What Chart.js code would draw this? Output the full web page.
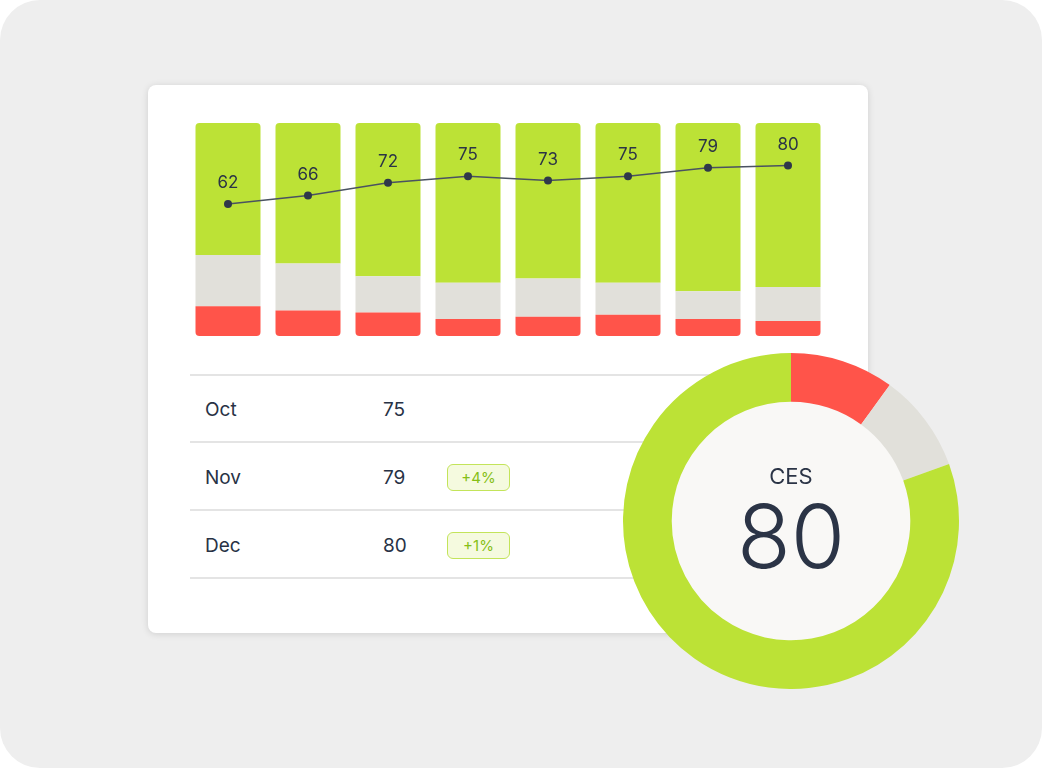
<!DOCTYPE html>
<html>
<head>
<meta charset="utf-8">
<script src="https://cdn.jsdelivr.net/npm/chart.js@4.4.1/dist/chart.umd.min.js"></script>
<style>
  html,body{margin:0;padding:0;background:#ffffff;width:1042px;height:768px;overflow:hidden;font-family:Inter,"Liberation Sans",Arial,sans-serif;}
  #bg{position:absolute;left:0;top:0;width:1042px;height:768px;background:#eeeeee;border-radius:40px;}
  #card{position:absolute;left:148px;top:85px;width:720px;height:548px;background:#ffffff;border-radius:8px;box-shadow:0 1px 7px rgba(0,0,0,0.13);}
  #barWrap{position:absolute;left:188px;top:100px;width:640px;height:236px;}
  .rule{position:absolute;left:190px;width:638px;height:2px;background:#e4e4e4;}
  .cell{position:absolute;font-size:19px;color:#283245;line-height:24px;}
  .badge{position:absolute;left:447px;width:61px;height:25px;border:1.6px solid #c3e45a;background:#f5fadf;border-radius:6px;color:#86bf17;font-size:15px;line-height:25px;text-align:center;}
  #donutWrap{position:absolute;left:623px;top:353px;width:336px;height:336px;}
  #ces{position:absolute;left:691px;width:200px;top:462px;text-align:center;font-size:22px;color:#2b3446;line-height:28px;}
  #big{position:absolute;left:691px;width:200px;top:488px;text-align:center;font-size:88px;font-weight:300;color:#2b3446;line-height:96px;}
</style>
</head>
<body>
<div id="bg"></div>
<div id="card"></div>
<div id="barWrap"><canvas id="bars"></canvas></div>
<div id="table"></div>
<div id="donutWrap"><canvas id="donut"></canvas></div>
<div id="ces"></div>
<div id="big"></div>
<script>
// ---- data ----
const categories = ["1","2","3","4","5","6","7","8"];
const positiveShare = [62, 66, 72, 75, 73, 75, 79, 77];
const neutralShare  = [24, 22, 17, 17, 18, 15, 13, 16];
const negativeShare = [14, 12, 11, 8, 9, 10, 8, 7];
const cesScore      = [62, 66, 72, 75, 73, 75, 79, 80];

const tableMonths = ["Oct", "Nov", "Dec"];
const tableValues = [75, 79, 80];
const tableChange = ["", "+4%", "+1%"];

const donutLabels = ["Negative", "Neutral", "Positive"];
const donutValues = [10, 9.5, 80.5];
const centerTitle = "CES";
const centerValue = "80";

const GREEN = "#bce236", GRAY = "#e1e0da", RED = "#ff544a";

// ---- table (HTML) ----
const tbl = document.getElementById('table');
const ruleYs = [374, 441, 509, 577];
ruleYs.forEach(y => { const d = document.createElement('div'); d.className='rule'; d.style.top = y+'px'; tbl.appendChild(d); });
tableMonths.forEach((m, i) => {
  const cy = 410 + i*68;
  const a = document.createElement('div'); a.className='cell'; a.style.left='205px'; a.style.top=(cy-12)+'px'; a.textContent=m; tbl.appendChild(a);
  const b = document.createElement('div'); b.className='cell'; b.style.left='383px'; b.style.top=(cy-12)+'px'; b.textContent=tableValues[i]; tbl.appendChild(b);
  if (tableChange[i]) { const c = document.createElement('div'); c.className='badge'; c.style.top=(cy-14)+'px'; c.textContent=tableChange[i]; tbl.appendChild(c); }
});
document.getElementById('ces').textContent = centerTitle;
document.getElementById('big').textContent = centerValue;

// ---- bar + line chart ----
const labelPlugin = {
  id: 'pointLabels',
  afterDatasetsDraw(chart) {
    const ctx = chart.ctx;
    const meta = chart.getDatasetMeta(3);
    ctx.save();
    ctx.font = '17px Inter, "Liberation Sans", Arial, sans-serif';
    ctx.fillStyle = '#2b3446';
    ctx.textAlign = 'center';
    ctx.textBaseline = 'middle';
    meta.data.forEach((pt, i) => { ctx.fillText(String(cesScore[i]), pt.x, pt.y - 21); });
    ctx.restore();
  }
};
new Chart(document.getElementById('bars'), {
  data: {
    labels: categories,
    datasets: [
      { type:'bar', data: negativeShare, backgroundColor: RED, stack:'s', order:1,
        borderRadius:{topLeft:0,topRight:0,bottomLeft:4,bottomRight:4}, borderSkipped:false },
      { type:'bar', data: neutralShare, backgroundColor: GRAY, stack:'s', order:1, borderRadius:0, borderSkipped:false },
      { type:'bar', data: positiveShare, backgroundColor: GREEN, stack:'s', order:1,
        borderRadius:{topLeft:4,topRight:4,bottomLeft:0,bottomRight:0}, borderSkipped:false },
      { type:'line', data: cesScore, yAxisID:'yLine', borderColor:'#4a5261', borderWidth:1.5,
        pointRadius:4, pointBackgroundColor:'#2f384a', pointBorderWidth:0, tension:0, order:0, clip:false }
    ]
  },
  options: {
    responsive:true, maintainAspectRatio:false, animation:false,
    layout:{ autoPadding:false, padding:{ top:23, bottom:0, left:0, right:0 } },
    datasets:{ bar:{ barPercentage:0.8125, categoryPercentage:1 } },
    plugins:{ legend:{display:false}, tooltip:{enabled:false} },
    scales:{
      x:{ display:false, stacked:true },
      y:{ display:false, stacked:true, min:0, max:100 },
      yLine:{ display:false, min:0, max:100 }
    }
  },
  plugins:[labelPlugin]
});

// ---- doughnut ----
const innerFill = {
  id:'innerFill',
  beforeDatasetsDraw(chart) {
    const arc = chart.getDatasetMeta(0).data[0];
    if (!arc) return;
    const ctx = chart.ctx;
    ctx.save();
    ctx.beginPath();
    ctx.arc(arc.x, arc.y, arc.innerRadius + 1, 0, Math.PI*2);
    ctx.fillStyle = '#f9f8f6';
    ctx.fill();
    ctx.restore();
  }
};
new Chart(document.getElementById('donut'), {
  type:'doughnut',
  data:{ labels: donutLabels, datasets:[{ data: donutValues, backgroundColor:[RED, GRAY, GREEN], borderWidth:0 }] },
  options:{
    responsive:true, maintainAspectRatio:false, animation:false, cutout:'71%',
    plugins:{ legend:{display:false}, tooltip:{enabled:false} }
  },
  plugins:[innerFill]
});
</script>
</body>
</html>
